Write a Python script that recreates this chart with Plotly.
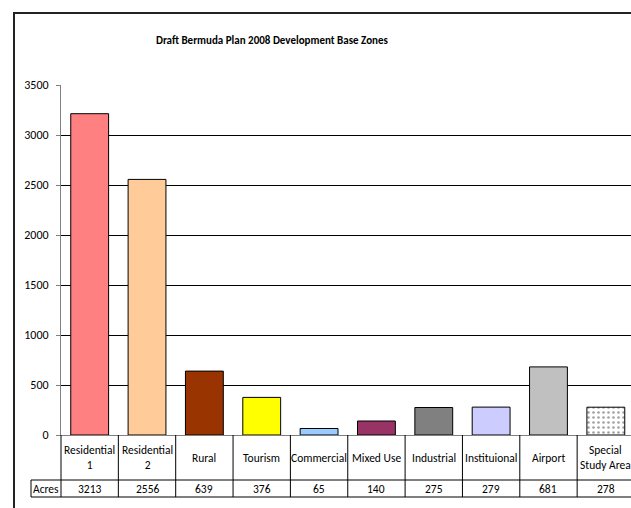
import plotly.graph_objects as go

# Development base zones and their areas (acres)
categories = ["Residential 1", "Residential 2", "Rural", "Tourism", "Commercial",
              "Mixed Use", "Industrial", "Instituional", "Airport", "Special Study Area"]
table_labels = ["Residential<br>1", "Residential<br>2", "Rural", "Tourism", "Commercial",
                "Mixed Use", "Industrial", "Instituional", "Airport", "Special<br>Study Area"]
acres = [3213, 2556, 639, 376, 65, 140, 275, 279, 681, 278]
bar_colors = ["#FF8080", "#FFCC99", "#993300", "#FFFF00", "#99CCFF",
              "#993366", "#808080", "#CCCCFF", "#C0C0C0", "#FFFFFF"]
patterns = ["", "", "", "", "", "", "", "", "", "."]
y_ticks = [0, 500, 1000, 1500, 2000, 2500, 3000, 3500]

FONT = "Carlito, Calibri, 'Liberation Sans Narrow', 'Arial Narrow', sans-serif"

W, H = 631, 508
L, T, B = 61, 85, 73
plot_w = W - L
plot_h = H - T - B
cat_px = 57.35
x_range = [-0.5, -0.5 + plot_w / cat_px]


def px_x(px):
    return (px - L) / plot_w


def px_y(py):
    return (H - B - py) / plot_h


def cat_x(v):
    return (v - x_range[0]) / (x_range[1] - x_range[0])


fig = go.Figure()
fig.add_trace(go.Bar(
    x=list(range(len(categories))),
    y=acres,
    width=0.66,
    marker=dict(
        color=bar_colors,
        line=dict(color="black", width=1),
        pattern=dict(shape=patterns, fgcolor="black", bgcolor="white",
                     size=5, solidity=0.22, fillmode="overlay"),
    ),
    hovertext=categories,
    showlegend=False,
))

shapes = []
# outer chart frame
shapes.append(dict(type="rect", xref="paper", yref="paper",
                   x0=px_x(14), x1=px_x(W + 20), y0=px_y(H + 20), y1=px_y(13),
                   line=dict(color="#222222", width=2), layer="below"))
# data table rules
line_style = dict(color="black", width=1)
y_axis_row = px_y(435)
y_mid_row = px_y(480)
y_bottom = px_y(497)
for i in range(len(categories) + 1):
    xv = cat_x(i - 0.5)
    shapes.append(dict(type="line", xref="paper", yref="paper",
                       x0=xv, x1=xv, y0=y_bottom, y1=y_axis_row, line=line_style))
for yv in (y_mid_row, y_bottom):
    shapes.append(dict(type="line", xref="paper", yref="paper",
                       x0=px_x(31), x1=px_x(W + 20), y0=yv, y1=yv, line=line_style))
shapes.append(dict(type="line", xref="paper", yref="paper",
                   x0=px_x(31), x1=px_x(31), y0=y_bottom, y1=y_mid_row, line=line_style))

txt_font = dict(family=FONT, size=11.5, color="black")
annotations = []
for i, (lab, val) in enumerate(zip(table_labels, acres)):
    annotations.append(dict(x=i, xref="x", y=px_y(458), yref="paper", text=lab,
                            showarrow=False, align="center",
                            xanchor="center", yanchor="middle", font=txt_font))
    annotations.append(dict(x=i, xref="x", y=px_y(489), yref="paper", text=str(val),
                            showarrow=False, xanchor="center", yanchor="middle",
                            font=txt_font))
annotations.append(dict(x=px_x(46), xref="paper", y=px_y(489), yref="paper", text="Acres",
                        showarrow=False, xanchor="center", yanchor="middle", font=txt_font))
annotations.append(dict(x=px_x(272), xref="paper", y=px_y(40), yref="paper",
                        text="<b>Draft Bermuda Plan 2008 Development Base Zones</b>",
                        showarrow=False, xanchor="center", yanchor="middle",
                        font=dict(family=FONT, size=11, color="black")))

fig.update_layout(
    width=W, height=H,
    margin=dict(l=L, r=0, t=T, b=B, pad=0),
    paper_bgcolor="white", plot_bgcolor="white",
    shapes=shapes, annotations=annotations,
    xaxis=dict(range=x_range, showticklabels=False, showgrid=False, zeroline=False,
               showline=True, linecolor="#808080", linewidth=1, ticks=""),
    yaxis=dict(range=[0, 3500], tickvals=y_ticks, showgrid=True, gridcolor="black",
               gridwidth=1, zeroline=False, showline=True, linecolor="#808080",
               linewidth=1, ticks="outside", ticklen=4, tickcolor="#808080",
               ticklabelstandoff=5,
               tickfont=dict(family=FONT, size=12, color="black")),
    font=dict(family=FONT),
)

fig.write_html("out.html")
